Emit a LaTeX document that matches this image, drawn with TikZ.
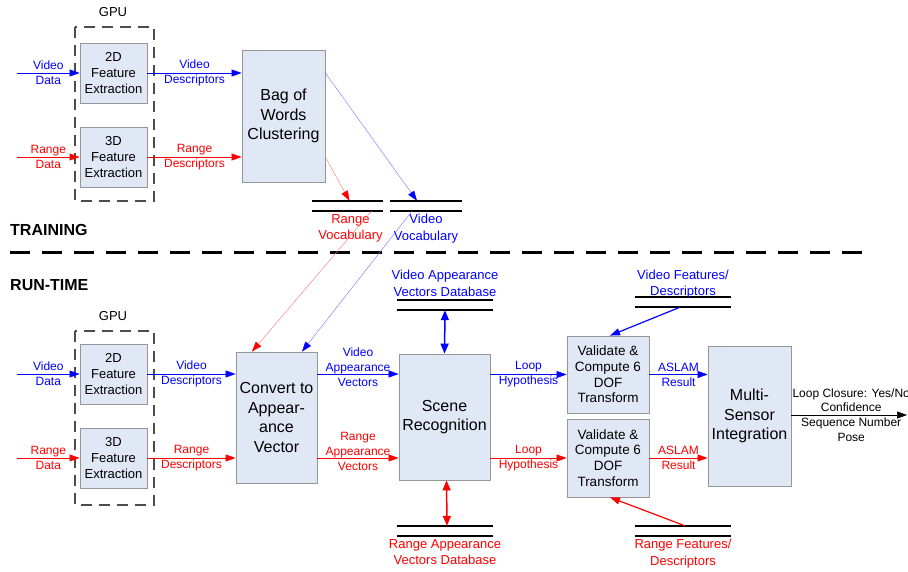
\documentclass[tikz,border=0pt]{standalone}
\usepackage{fontspec}
\setmainfont{Liberation Sans}
\usetikzlibrary{arrows.meta,positioning}
\definecolor{boxfill}{RGB}{225,232,245}
\definecolor{boxline}{RGB}{150,150,150}
\definecolor{vblue}{RGB}{0,0,255}
\definecolor{rred}{RGB}{255,0,0}
\tikzstyle{block} = [draw=boxline,fill=boxfill,line width=0.8pt,align=center,inner sep=1pt]
\tikzstyle{featblock} = [block,minimum width=67,minimum height=60,font=\fontsize{13}{16}\selectfont]
\tikzstyle{bigblock} = [block,font=\fontsize{16}{19.5}\selectfont]
\tikzstyle{valblock} = [block,minimum width=82,minimum height=77,font=\fontsize{13.5}{15.7}\selectfont]
\tikzstyle{store} = [minimum height=10,inner sep=0pt]
\tikzstyle{storeline} = [line width=2pt]
\tikzstyle{gpubox} = [draw=black!70,line width=1.2pt,dash pattern=on 11pt off 7pt]
\tikzstyle{arrow} = [-{Triangle[length=10pt,width=7pt]},line width=0.5pt]
\tikzstyle{vfaint} = [-{Triangle[length=10pt,width=7pt,color=vblue]},line width=0.4pt,draw=vblue!55]
\tikzstyle{rfaint} = [-{Triangle[length=10pt,width=7pt,color=rred]},line width=0.4pt,draw=rred!55]
\tikzstyle{dblarrow} = [{Triangle[length=10pt,width=8pt]}-{Triangle[length=10pt,width=8pt]},line width=1.5pt]
\tikzstyle{lbl} = [align=center,font=\fontsize{12}{15}\selectfont,inner sep=0pt]
\tikzstyle{storelbl} = [align=center,font=\fontsize{13}{16.5}\selectfont,inner sep=0pt]
\tikzstyle{phase} = [anchor=west,font=\fontsize{16}{19}\selectfont\bfseries,inner sep=0pt]
\newcommand{\storelines}[1]{\draw[storeline] (#1.north west) -- (#1.north east) (#1.south west) -- (#1.south east);}

\begin{document}
\begin{tikzpicture}[x=1pt,y=-1pt]
\useasboundingbox (0,0) rectangle (908,572);

% training
\draw[gpubox] (75,27) rectangle (154,201);
\node[font=\fontsize{13}{16}\selectfont] (gputlbl) at (113,12) {GPU};
\node[featblock] (fe2dt) at (113.5,73) {2D\\Feature\\Extraction};
\node[featblock] (fe3dt) at (113.5,157) {3D\\Feature\\Extraction};
\node[bigblock,minimum width=83,minimum height=132] (bow) at (283.5,116) {Bag of\\Words\\Clustering};
\node[store,minimum width=71] (rvoc) at (347.5,206) {};
\node[store,minimum width=72] (vvoc) at (426,206) {};
\storelines{rvoc}
\storelines{vvoc}
\node[storelbl,text=rred,below=3pt of rvoc,xshift=3pt] (rvoclbl) {Range\\Vocabulary};
\node[storelbl,text=vblue,below=3pt of vvoc] (vvoclbl) {Video\\Vocabulary};

\coordinate (vint) at (17,73);
\coordinate (rint) at (17,157);
\draw[arrow,vblue] (vint) -- node[lbl] {Video\\Data} (fe2dt);
\draw[arrow,rred] (rint) -- node[lbl] {Range\\Data} (fe3dt);
\draw[arrow,vblue] (fe2dt.east) -- node[lbl] {Video\\Descriptors} (fe2dt.east -| bow.west);
\draw[arrow,rred] (fe3dt.east) -- node[lbl] {Range\\Descriptors} (fe3dt.east -| bow.west);
\draw[vfaint] (bow.east |- fe2dt) -- ([xshift=-9pt]vvoc.north);
\draw[rfaint] (bow.east |- fe3dt) -- ([xshift=2pt]rvoc.north);

% separator
\node[phase] (train) at (10,230) {TRAINING};
\node[phase] (run) at (10,285) {RUN-TIME};
\coordinate (sepl) at (10,253);
\coordinate (sepr) at (862,253);
\draw[line width=3pt,dash pattern=on 20pt off 12pt] (sepl) -- (sepr);

% run-time
\draw[gpubox] (75,331) rectangle (154,505);
\node[font=\fontsize{13}{16}\selectfont] (gpurlbl) at (113,316) {GPU};
\node[featblock] (fe2dr) at (113.5,374) {2D\\Feature\\Extraction};
\node[featblock] (fe3dr) at (113.5,458) {3D\\Feature\\Extraction};
\node[bigblock,minimum width=81,minimum height=131] (conv) at (276.5,417.5) {Convert to\\Appear-\\ance\\Vector};
\node[bigblock,minimum width=91,minimum height=126] (scene) at (444.5,417) {Scene\\Recognition};
\node[store,minimum width=96] (vadb) at (445,305) {};
\node[store,minimum width=96] (radb) at (445,531) {};
\storelines{vadb}
\storelines{radb}
\node[storelbl,text=vblue,above=3pt of vadb] (vadblbl) {Video Appearance\\Vectors Database};
\node[storelbl,text=rred,below=3pt of radb] (radblbl) {Range Appearance\\Vectors Database};
\node[valblock] (valv) at (608,374.5) {Validate \&\\Compute 6\\DOF\\Transform};
\node[valblock,minimum height=78] (valr) at (608,458) {Validate \&\\Compute 6\\DOF\\Transform};
\node[store,minimum width=96] (vfeat) at (683,302) {};
\node[store,minimum width=96] (rfeat) at (683,531) {};
\storelines{vfeat}
\storelines{rfeat}
\node[storelbl,text=vblue,above=-2pt of vfeat] (vfeatlbl) {Video Features/\\Descriptors};
\node[storelbl,text=rred,below=3pt of rfeat] (rfeatlbl) {Range Features/\\Descriptors};
\node[bigblock,minimum width=83,minimum height=140] (msi) at (749.5,416) {Multi-\\Sensor\\Integration};

\coordinate (vinr) at (17,374);
\coordinate (rinr) at (17,458);
\coordinate (out) at (908,415);
\draw[arrow,vblue] (vinr) -- node[lbl] {Video\\Data} (fe2dr);
\draw[arrow,rred] (rinr) -- node[lbl] {Range\\Data} (fe3dr);
\draw[arrow,vblue] (fe2dr.east) -- node[lbl] {Video\\Descriptors} (fe2dr.east -| conv.west);
\draw[arrow,rred] (fe3dr.east) -- node[lbl] {Range\\Descriptors} (fe3dr.east -| conv.west);
\draw[rfaint] ([xshift=24pt]rvoc.south) -- ([xshift=-24.5pt]conv.north);
\draw[vfaint] ([xshift=-14pt]vvoc.south) -- ([xshift=25.5pt]conv.north);
\draw[arrow,vblue] (conv.east |- fe2dr) -- node[lbl,yshift=7pt] {Video\\Appearance\\Vectors} (scene.west |- fe2dr);
\draw[arrow,rred] (conv.east |- fe3dr) -- node[lbl,yshift=7pt] {Range\\Appearance\\Vectors} (scene.west |- fe3dr);
\draw[dblarrow,vblue] (vadb.south) -- (scene.north);
\draw[dblarrow,rred] ([xshift=2pt]scene.south) -- ([xshift=2pt]radb.north);
\draw[arrow,vblue] (scene.east |- valv) -- node[lbl] {Loop\\Hypothesis} (valv.west);
\draw[arrow,rred] (scene.east |- valr) -- node[lbl] {Loop\\Hypothesis} (valr.west);
\draw[arrow,vblue,line width=1.2pt] ([xshift=-3pt]vfeat.south) -- ([xshift=2pt]valv.north);
\draw[arrow,rred,line width=1.2pt] ([xshift=2pt]rfeat.north) -- ([xshift=2pt]valr.south);
\draw[arrow,vblue] (valv.east) -- node[lbl] {ASLAM\\Result} (valv.east -| msi.west);
\draw[arrow,rred] (valr.east) -- node[lbl] {ASLAM\\Result} (valr.east -| msi.west);
\draw[arrow] (msi.east |- out) -- node[lbl,xshift=2pt,font=\fontsize{12}{14.7}\selectfont] {Loop Closure: Yes/No\\Confidence\\Sequence Number\\Pose} ([xshift=-1pt]out);
\end{tikzpicture}
\end{document}
